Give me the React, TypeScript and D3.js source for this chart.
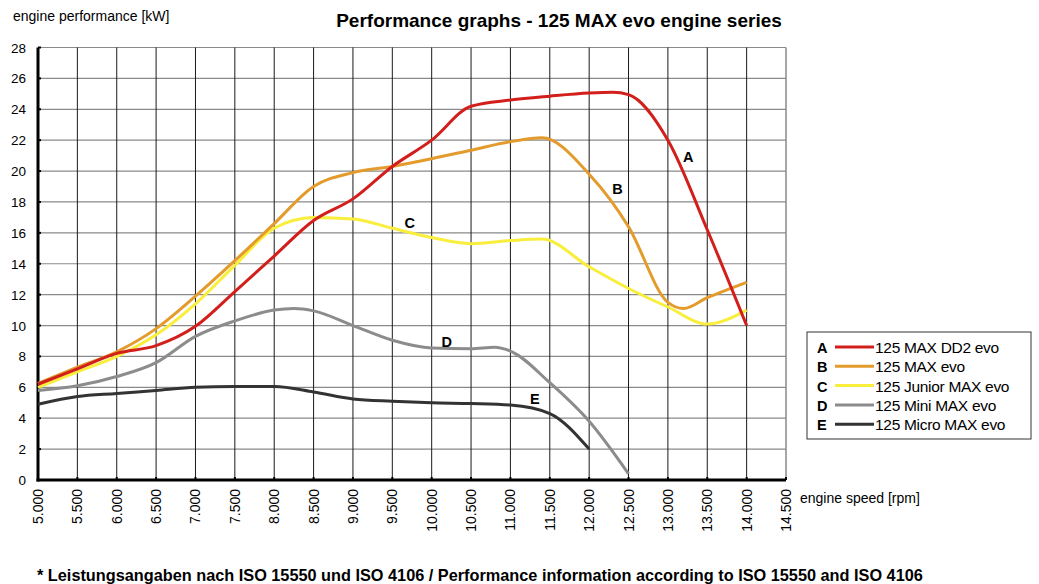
import React, { useEffect, useRef } from 'react';
import * as d3 from 'd3';

// Performance curves (rpm -> kW)
const rpmA = [5000, 5500, 6000, 6500, 7000, 7500, 8000, 8500, 9000, 9500, 10000, 10500, 11000, 11500, 12000, 12300, 12500, 13000, 13500, 14000];
const kwA = [6.2, 7.2, 8.2, 8.7, 9.95, 12.2, 14.5, 16.8, 18.2, 20.3, 22.0, 24.2, 24.6, 24.85, 25.05, 25.1, 24.95, 22.0, 16.2, 10.0];

const rpmB = [5000, 5500, 6000, 6500, 7000, 7500, 8000, 8500, 9000, 9500, 10000, 10500, 11000, 11400, 12000, 12500, 13000, 13200, 13500, 14000];
const kwB = [6.25, 7.3, 8.3, 9.8, 11.9, 14.2, 16.6, 19.0, 19.9, 20.3, 20.8, 21.35, 21.9, 22.15, 19.8, 16.4, 11.5, 11.1, 11.8, 12.8];

const rpmC = [5000, 5500, 6000, 6500, 7000, 7500, 8000, 8500, 9000, 9500, 10000, 10500, 11000, 11400, 12000, 12500, 13000, 13500, 14000];
const kwC = [6.0, 7.0, 8.0, 9.4, 11.4, 13.9, 16.3, 17.0, 16.9, 16.3, 15.7, 15.3, 15.5, 15.6, 13.8, 12.4, 11.2, 10.1, 11.0];

const rpmD = [5000, 5500, 6000, 6500, 7000, 7500, 8000, 8250, 8500, 9000, 9500, 10000, 10500, 10800, 11000, 11500, 12000, 12500];
const kwD = [5.8, 6.1, 6.7, 7.6, 9.3, 10.3, 11.0, 11.1, 10.95, 10.0, 9.05, 8.55, 8.5, 8.6, 8.35, 6.3, 3.8, 0.4];

const rpmE = [5000, 5500, 6000, 6500, 7000, 7500, 8000, 8500, 9000, 9500, 10000, 10500, 11000, 11500, 12000];
const kwE = [4.9, 5.4, 5.6, 5.8, 6.0, 6.05, 6.05, 5.7, 5.25, 5.1, 5.0, 4.95, 4.85, 4.3, 2.0];

const letters = ['A', 'B', 'C', 'D', 'E'];
const names = ['125 MAX DD2 evo', '125 MAX evo', '125 Junior MAX evo', '125 Mini MAX evo', '125 Micro MAX evo'];
const colors = ['#d21f1b', '#e39b2c', '#f9ee3c', '#8c8c8c', '#333333'];
// where the letter tags sit on the plot (rpm, kW)
const tagRpm = [13260, 12360, 9720, 10190, 11310];
const tagKw = [20.6, 18.5, 16.3, 8.6, 4.95];

const xTicks = d3.range(5000, 14501, 500);
const yTicks = d3.range(0, 29, 2);

const W = 1039;
const H = 584;

const App: React.FC = () => {
  const ref = useRef<SVGSVGElement>(null);

  useEffect(() => {
    if (!ref.current) return;
    const svg = d3.select(ref.current);
    svg.selectAll('*').remove();

    const x = d3.scaleLinear().domain([5000, 14500]).range([38, 786]);
    const y = d3.scaleLinear().domain([0, 28]).range([480, 47.5]);
    const font = 'Liberation Sans, Arial, sans-serif';

    // grid
    svg.append('g')
      .selectAll('line')
      .data(yTicks.filter(d => d > 0))
      .join('line')
      .attr('x1', x(5000)).attr('x2', x(14500))
      .attr('y1', d => y(d)).attr('y2', d => y(d))
      .attr('stroke', '#8a8a8a').attr('stroke-width', 1.2);

    svg.append('g')
      .selectAll('line')
      .data(xTicks.filter(d => d > 5000))
      .join('line')
      .attr('x1', d => x(d)).attr('x2', d => x(d))
      .attr('y1', y(0)).attr('y2', y(28))
      .attr('stroke', d => d === 14500 ? '#8a8a8a' : '#1a1a1a').attr('stroke-width', d => d === 14500 ? 1.5 : 1);

    // axes
    svg.append('line')
      .attr('x1', x(5000)).attr('x2', x(5000)).attr('y1', y(0) + 1.5).attr('y2', y(28))
      .attr('stroke', '#000').attr('stroke-width', 3);
    svg.append('line')
      .attr('x1', x(5000) - 1.5).attr('x2', x(14500)).attr('y1', y(0)).attr('y2', y(0))
      .attr('stroke', '#000').attr('stroke-width', 3);

    svg.append('g')
      .selectAll('line')
      .data(yTicks)
      .join('line')
      .attr('x1', x(5000)).attr('x2', x(5000) + 3)
      .attr('y1', d => y(d)).attr('y2', d => y(d))
      .attr('stroke', '#000').attr('stroke-width', 2);
    svg.append('g')
      .selectAll('line')
      .data(xTicks)
      .join('line')
      .attr('x1', d => x(d)).attr('x2', d => x(d))
      .attr('y1', y(0)).attr('y2', y(0) - 3)
      .attr('stroke', '#000').attr('stroke-width', 2);

    // tick labels
    svg.append('g')
      .selectAll('text')
      .data(yTicks)
      .join('text')
      .attr('x', 26).attr('y', d => y(d) + 5)
      .attr('text-anchor', 'end')
      .attr('font-family', font).attr('font-size', 13.5)
      .text(d => d);

    const fmt = (d: number) => d3.format(',')(d).replace(',', '.');
    svg.append('g')
      .selectAll('text')
      .data(xTicks)
      .join('text')
      .attr('transform', d => `translate(${x(d) + 5},489) rotate(-90)`)
      .attr('text-anchor', 'end')
      .attr('font-family', font).attr('font-size', 14)
      .text(d => fmt(d));

    // curves
    const rpms = [rpmA, rpmB, rpmC, rpmD, rpmE];
    const kws = [kwA, kwB, kwC, kwD, kwE];
    const line = d3.line<[number, number]>()
      .x(d => x(d[0]))
      .y(d => y(d[1]))
      .curve(d3.curveMonotoneX);

    [4, 3, 2, 1, 0].forEach(i => {
      const pts = rpms[i].map((r, j) => [r, kws[i][j]] as [number, number]);
      svg.append('path')
        .attr('d', line(pts))
        .attr('fill', 'none')
        .attr('stroke', colors[i])
        .attr('stroke-width', 3)
        .attr('stroke-linejoin', 'round');
    });

    // letter tags
    svg.append('g')
      .selectAll('text')
      .data(letters)
      .join('text')
      .attr('x', (d, i) => x(tagRpm[i]))
      .attr('y', (d, i) => y(tagKw[i]))
      .attr('text-anchor', 'middle')
      .attr('font-family', font).attr('font-size', 14.5).attr('font-weight', 'bold')
      .text(d => d);

    // legend
    const lg = svg.append('g').attr('transform', 'translate(807,332)');
    lg.append('rect')
      .attr('width', 224).attr('height', 107)
      .attr('fill', '#fff').attr('stroke', '#333').attr('stroke-width', 1);
    letters.forEach((l, i) => {
      const ry = 16 + i * 19.3;
      lg.append('text')
        .attr('x', 10).attr('y', ry + 5)
        .attr('font-family', font).attr('font-size', 14.5).attr('font-weight', 'bold')
        .text(l);
      lg.append('line')
        .attr('x1', 28).attr('x2', 67).attr('y1', ry - 1).attr('y2', ry - 1)
        .attr('stroke', colors[i]).attr('stroke-width', 3);
      lg.append('text')
        .attr('x', 68).attr('y', ry + 5)
        .attr('font-family', font).attr('font-size', 15.5)
        .attr('letter-spacing', -0.3)
        .text(names[i]);
    });

    // titles
    svg.append('text')
      .attr('x', 559).attr('y', 27)
      .attr('text-anchor', 'middle')
      .attr('font-family', font).attr('font-size', 19).attr('font-weight', 'bold')
      .text('Performance graphs - 125 MAX evo engine series');
    svg.append('text')
      .attr('x', 13).attr('y', 21)
      .attr('font-family', font).attr('font-size', 14)
      .text('engine performance  [kW]');
    svg.append('text')
      .attr('x', 800).attr('y', 503)
      .attr('font-family', font).attr('font-size', 14)
      .text('engine speed  [rpm]');
    svg.append('text')
      .attr('x', 37).attr('y', 581)
      .attr('font-family', font).attr('font-size', 16.3).attr('font-weight', 'bold')
      .text('* Leistungsangaben nach ISO 15550 und ISO 4106 / Performance information according to ISO 15550 and ISO 4106');
  }, []);

  return (
    <svg
      ref={ref}
      width={W}
      height={H}
      style={{ position: 'absolute', left: 0, top: 0, background: '#fff', display: 'block' }}
    />
  );
};

export default App;
